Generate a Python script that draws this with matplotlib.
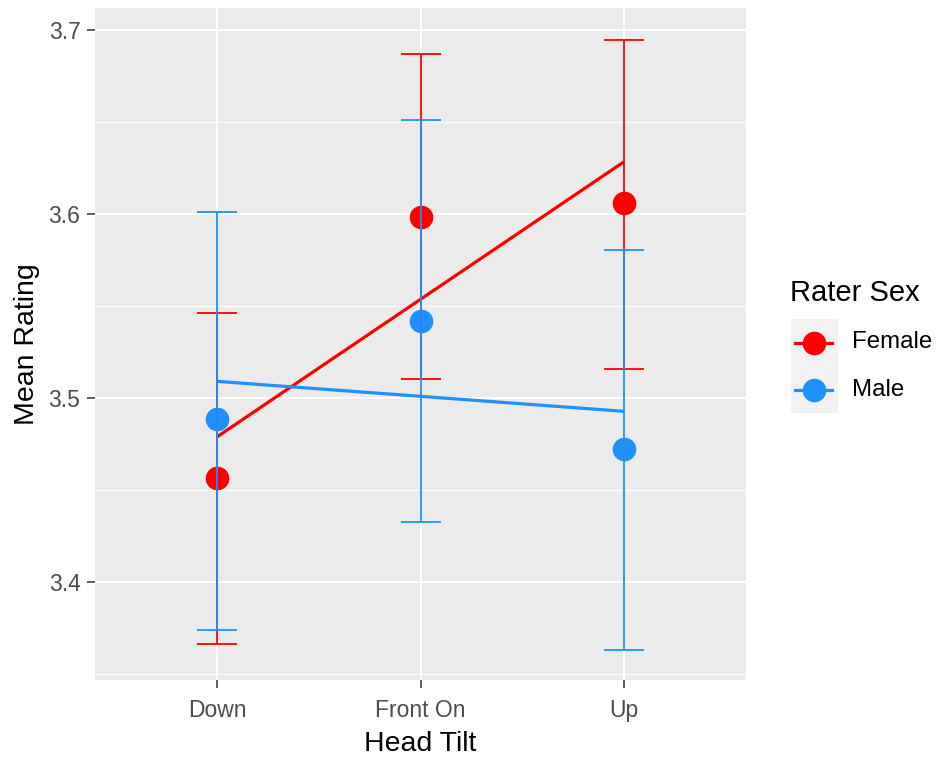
import numpy as np
import matplotlib
matplotlib.use("Agg")
import matplotlib.pyplot as plt
from matplotlib.patches import Rectangle

plt.rcParams['font.family'] = ['Liberation Sans', 'DejaVu Sans']

categories = ["Down", "Front On", "Up"]
groups = ["Female", "Male"]
female_mean = [3.4565, 3.5984, 3.6060]
female_lower = [3.3663, 3.5103, 3.5158]
female_upper = [3.5462, 3.6870, 3.6946]
male_mean = [3.4886, 3.5418, 3.4723]
male_lower = [3.3739, 3.4326, 3.3630]
male_upper = [3.6011, 3.6511, 3.5804]
yticks = [3.4, 3.5, 3.6, 3.7]
yminor = [3.35, 3.45, 3.55, 3.65]

colors = {"Female": "#FF0000", "Male": "#1E90FF"}
series = {
    "Female": (female_mean, female_lower, female_upper),
    "Male": (male_mean, male_lower, male_upper),
}

W, H = 940, 758
fig = plt.figure(figsize=(W / 100, H / 100), dpi=100)
fig.patch.set_facecolor("white")
L, R, T, B = 95, 746, 8, 680
ax = fig.add_axes([L / W, 1 - B / H, (R - L) / W, (B - T) / H])
ax.set_facecolor("#EBEBEB")
for s in ax.spines.values():
    s.set_visible(False)

x = np.arange(1, len(categories) + 1)
ax.set_xlim(0.4, 3.6)
ax.set_ylim(3.3467, 3.712)

# grid
for yv in yminor:
    ax.axhline(yv, color="white", lw=0.8, zorder=0.5)
for yv in yticks:
    ax.axhline(yv, color="white", lw=1.5, zorder=0.6)
for xv in x:
    ax.axvline(xv, color="white", lw=1.5, zorder=0.6)

# points
for g in groups:
    m, lo, hi = series[g]
    ax.plot(x, m, 'o', color=colors[g], markersize=17, markeredgewidth=0, zorder=3)
# fitted lines
for g in groups:
    m, lo, hi = series[g]
    coef = np.polyfit(x, m, 1)
    xf = np.array([x[0], x[-1]])
    ax.plot(xf, np.polyval(coef, xf), color=colors[g], lw=2.3, zorder=4,
            solid_capstyle='butt')
# error bars
for g in groups:
    m, lo, hi = series[g]
    m = np.array(m); lo = np.array(lo); hi = np.array(hi)
    ax.errorbar(x, m, yerr=[m - lo, hi - m], fmt='none', ecolor=colors[g],
                elinewidth=1.3, capsize=14.5, capthick=1.3, zorder=5)

ax.set_xticks(x)
ax.set_xticklabels(categories)
ax.set_yticks(yticks)
ax.set_yticklabels([f"{v:.1f}" for v in yticks])
ax.tick_params(axis='both', colors="#333333", length=5.5, width=1.1,
               labelcolor="#4D4D4D", labelsize=16.5)
ax.tick_params(axis='x', pad=8)
ax.tick_params(axis='y', pad=5)
ax.set_xlabel("Head Tilt", fontsize=20.5, color="black", labelpad=7)
ax.set_ylabel("Mean Rating", fontsize=20.5, color="black", labelpad=6.5)

# legend (manual)
lax = fig.add_axes([0, 0, 1, 1], facecolor="none")
lax.set_xlim(0, W)
lax.set_ylim(H, 0)
lax.axis("off")
lax.text(790, 293, "Rater Sex", fontsize=21, va="center", ha="left", color="black")
key_top = 319
key_h = 47
for i, g in enumerate(groups):
    y0 = key_top + i * key_h
    lax.add_patch(Rectangle((791, y0), 47, key_h, facecolor="#F2F2F2",
                            edgecolor="none", zorder=1))
    yc = y0 + key_h / 2
    lax.plot([795, 832], [yc, yc], color=colors[g], lw=2.3, zorder=2)
    lax.plot([814], [yc], 'o', color=colors[g], markersize=17,
             markeredgewidth=0, zorder=3)
    lax.text(852, yc, g, fontsize=17.3, va="center", ha="left", color="black")

fig.savefig("out.png", dpi=100)
